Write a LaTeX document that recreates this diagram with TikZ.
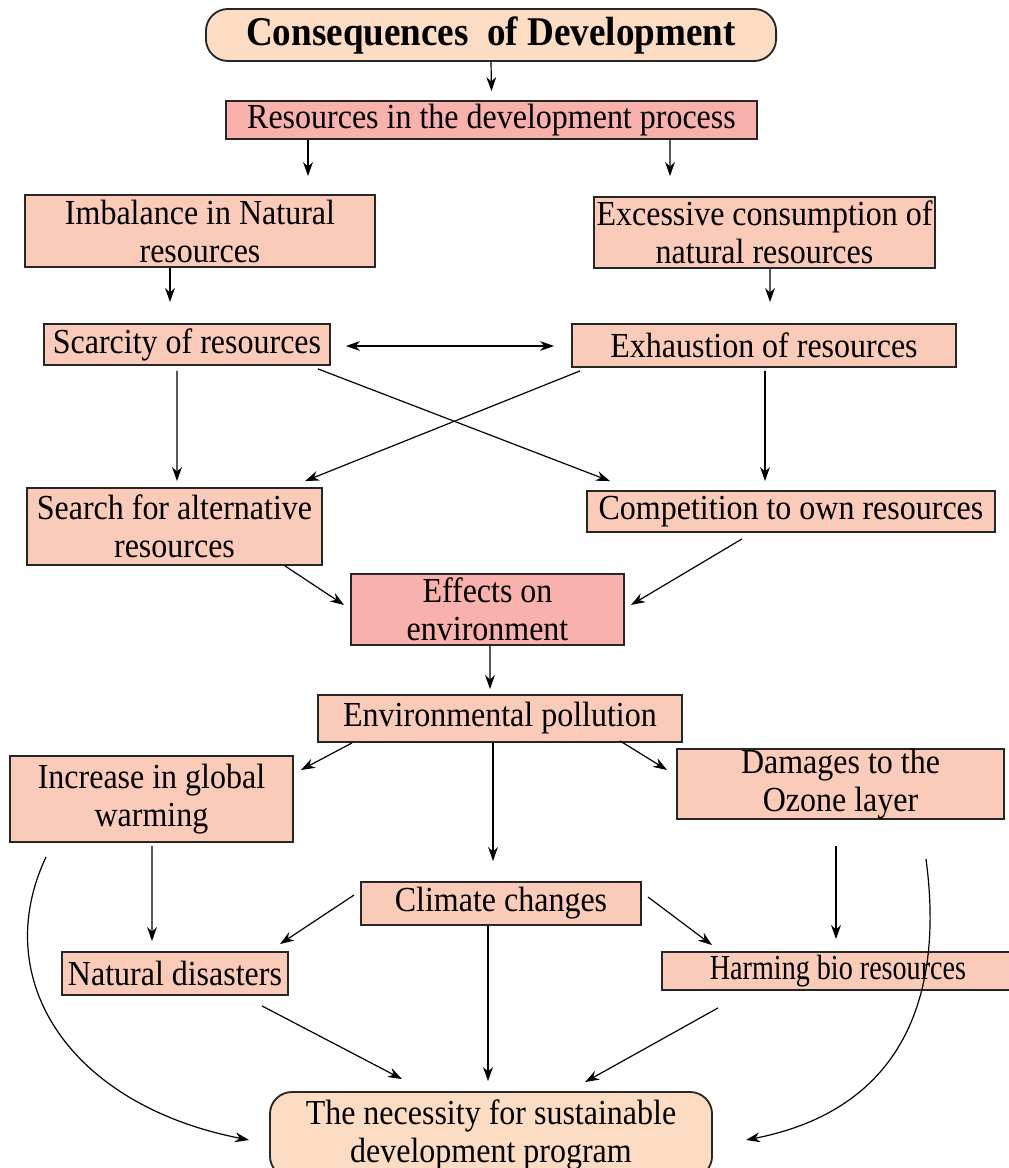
\documentclass[tikz,border=0pt]{standalone}
\usepackage{fontspec}
\setmainfont[FakeStretch=0.91]{Liberation Serif}
\newfontfamily\narrowfont[FakeStretch=0.8]{Liberation Serif}
\usepackage{xcolor}
\usetikzlibrary{positioning,arrows.meta,calc}

\definecolor{peach}{HTML}{FDDCC4}
\definecolor{salmon}{HTML}{F9CBB8}
\definecolor{rose}{HTML}{F8B1AD}

\begin{document}
\begin{tikzpicture}[
          x=0.025cm, y=-0.025cm,
          box/.style={draw=black!85, line width=1.3pt, fill=salmon, inner sep=0pt,
                      align=center, font=\fontsize{25}{27}\selectfont},
          keybox/.style={box, fill=rose},
          endbox/.style={box, fill=peach, rounded corners=0.55cm},
          arr/.style={-{Stealth[length=10pt,width=7pt]}, line width=0.85pt}
      ]
        \useasboundingbox (0,0) rectangle (1008,1168);
        \node[endbox, minimum width=14.25cm, minimum height=1.3cm,
              font=\fontsize{29}{30}\selectfont\bfseries] (title) at (491,35) {Consequences\ \ of Development};
        \node[keybox, minimum width=13.275cm, minimum height=0.95cm] (res) at (491.5,120) {Resources in the development process};
        \node[box, minimum width=8.75cm, minimum height=1.8cm] (imb) at (200,231) {Imbalance in Natural\\resources};
        \node[box, minimum width=8.525cm, minimum height=1.775cm] (exc) at (764.5,232.5) {Excessive consumption of\\natural resources};
        \node[box, minimum width=7.15cm, minimum height=1.025cm] (sca) at (187,344.5) {Scarcity of resources};
        \node[box, minimum width=9.6cm, minimum height=1.075cm] (exh) at (764,345.5) {Exhaustion of resources};
        \node[box, minimum width=7.375cm, minimum height=1.925cm] (sea) at (174.5,526.5) {Search for alternative\\resources};
        \node[box, minimum width=10.2cm, minimum height=1.025cm] (com) at (791,511.5) {Competition to own resources};
        \node[keybox, minimum width=6.825cm, minimum height=1.775cm] (eff) at (487.5,609.5) {Effects on\\environment};
        \node[box, minimum width=9.1cm, minimum height=1.175cm] (pol) at (500,718.5) {Environmental pollution};
        \node[box, minimum width=7.075cm, minimum height=2.15cm] (inc) at (151.5,799) {Increase in global\\warming};
        \node[box, minimum width=8.175cm, minimum height=1.65cm] (dam) at (840.5,784) {Damages to the\\Ozone layer};
        \node[box, minimum width=7cm, minimum height=1.075cm] (cli) at (501,903.5) {Climate changes};
        \node[box, minimum width=5.65cm, minimum height=1.075cm] (nat) at (175,973.5) {Natural disasters};
        \node[box, minimum width=8.8cm, minimum height=0.95cm,
              font=\fontsize{25}{27}\narrowfont] (har) at (838,971) {Harming bio resources};
        \node[endbox, minimum width=11.05cm, minimum height=2.15cm] (nec) at (491,1135) {The necessity for sustainable\\development program};

        \draw[arr] (title.south) -- ($(res.north)+(0,-9)$);
        \draw[arr] ($(res.south)+(-183.5,0)$) -- ($(imb.north)+(108,-18)$);
        \draw[arr] ($(res.south)+(178.5,0)$) -- ($(exc.north)+(-94.5,-20)$);
        \draw[arr] ($(imb.south)+(-30,0)$) -- ($(sca.north)+(-17,-21)$);
        \draw[arr] ($(exc.south)+(5.5,0)$) -- ($(exh.north)+(6,-21)$);
        \draw[arr, {Stealth[length=10pt,width=7pt]}-{Stealth[length=10pt,width=7pt]}] ($(sca.east)+(15,1.5)$) -- ($(exh.west)+(-17,0.5)$);
        \draw[arr] ($(sca.south)+(-10,5)$) -- ($(sea.north)+(2.5,-6)$);
        \draw[arr] ($(sca.south)+(131,3)$) -- ($(com.north)+(-181,-9)$);
        \draw[arr] ($(exh.south)+(-184,3)$) -- ($(sea.north)+(130.5,-6)$);
        \draw[arr] ($(exh.south)+(1,3)$) -- ($(com.north)+(-26,-9)$);
        \draw[arr] ($(sea.south)+(110.5,0)$) -- ($(eff.west)+(-6,-4.5)$);
        \draw[arr] ($(com.south)+(-49,6)$) -- ($(eff.east)+(6,-4.5)$);
        \draw[arr] ($(eff.south)+(2.5,0)$) -- ($(pol.north)+(-10,-5)$);
        \draw[arr] ($(pol.south)+(-148,0)$) -- ($(inc.east)+(7,-29)$);
        \draw[arr] ($(pol.south)+(-7,0)$) -- ($(cli.north)+(-8,-20)$);
        \draw[arr] ($(pol.south)+(120,-2)$) -- ($(dam.west)+(-9,-14)$);
        \draw[arr] ($(inc.south)+(0.5,3)$) -- ($(nat.north)+(-23,-10)$);
        \draw[arr] ($(dam.south)+(-4.5,26)$) -- ($(har.north)+(-2,-12)$);
        \draw[arr] ($(cli.west)+(-6,-8.5)$) -- ($(nat.north)+(105,-7)$);
        \draw[arr] ($(cli.east)+(6,-6.5)$) -- ($(har.north)+(-126,-6)$);
        \draw[arr] ($(cli.south)+(-13,0)$) -- ($(nec.north)+(-3,-10)$);
        \draw[arr] ($(nat.south)+(87,10)$) -- ($(nec.north)+(-89,-12)$);
        \draw[arr] ($(har.south)+(-120,17)$) -- ($(nec.north)+(94,-9)$);
        \draw[arr] ($(inc.south west)+(37,14)$) .. controls (-12,980) and (70,1105) .. ($(nec.west)+(-20,5)$);
        \draw[arr] ($(dam.south east)+(-79,39)$) .. controls (945,1000) and (900,1110) .. ($(nec.east)+(33,5)$);
      \end{tikzpicture}
\end{document}
